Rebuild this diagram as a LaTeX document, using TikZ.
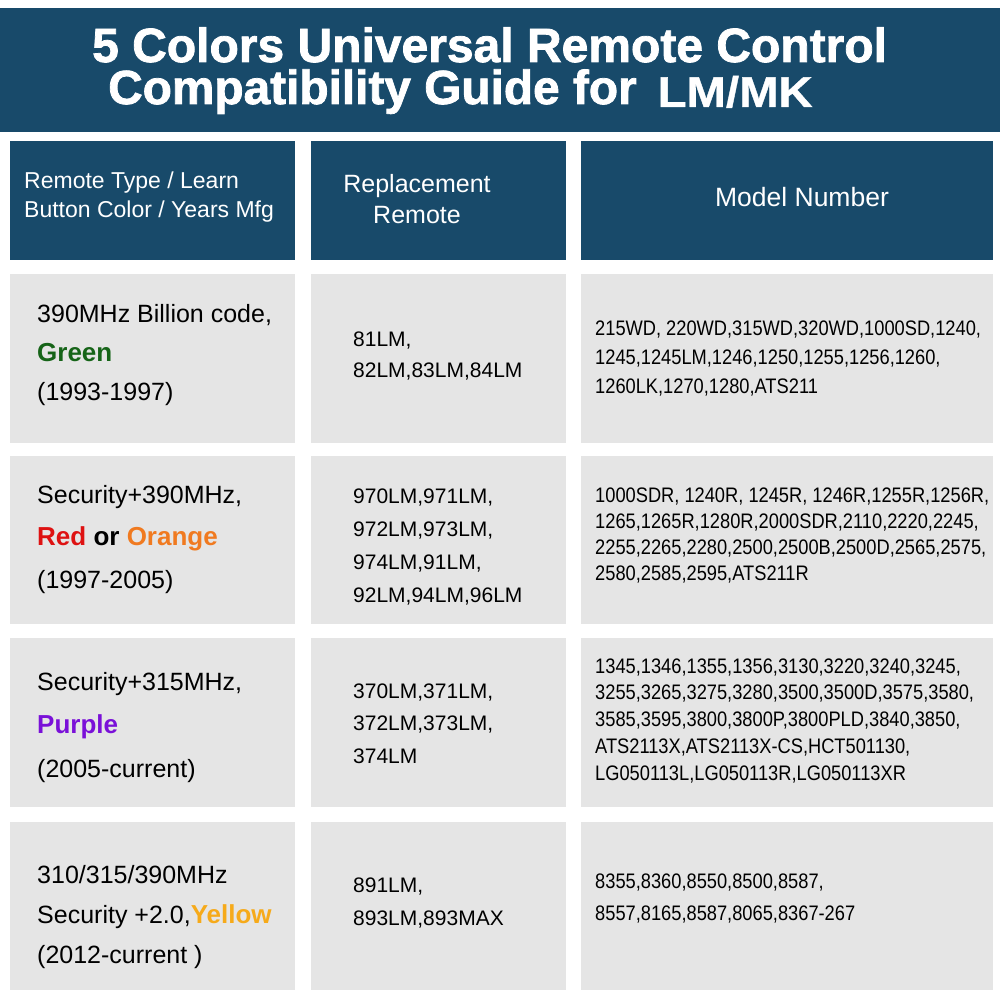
\documentclass[tikz,border=0pt]{standalone}
\usepackage{fontspec}
\setmainfont{Liberation Sans}
\newfontfamily\titlefont[BoldFeatures={FakeBold=1.6}]{Liberation Sans}
\newfontfamily\lmmkfont[BoldFeatures={FakeBold=0.8}]{Liberation Sans}
\usetikzlibrary{positioning}
\definecolor{bannerblue}{RGB}{24,74,106}
\definecolor{cellgray}{RGB}{229,229,229}
\definecolor{codegreen}{RGB}{22,100,24}
\definecolor{codered}{RGB}{222,18,18}
\definecolor{codeorange}{RGB}{240,122,32}
\definecolor{codepurple}{RGB}{122,16,216}
\definecolor{codeyellow}{RGB}{246,170,26}
\begin{document}
\begin{tikzpicture}[x=1pt, y=-1pt,
    banner/.style={rectangle, fill=bannerblue, inner sep=0pt, anchor=north west},
    headcell/.style={rectangle, fill=bannerblue, inner sep=0pt, minimum height=119pt},
    cell/.style={rectangle, fill=cellgray, inner sep=0pt},
    titletxt/.style={anchor=base west, inner sep=0pt, text=white, align=left, font=\titlefont\bfseries},
    headtxt/.style={anchor=base, inner sep=0pt, text=white, align=center},
    typetxt/.style={anchor=base west, inner sep=0pt, align=left},
    remotetxt/.style={anchor=base west, inner sep=0pt, align=left},
    modeltxt/.style={anchor=base west, inner sep=0pt, align=left, xscale=0.87, transform shape}]

\useasboundingbox (0,0) rectangle (1000,1000);
\fill[white] (0,0) rectangle (1000,1000);

% Title (multi-line nodes sit on the baseline of their last line)
\node [banner, minimum width=1000pt, minimum height=124pt] (title) at (0,8) {};
\node [titletxt, font=\titlefont\bfseries\fontsize{48}{42}\selectfont] (titletext) at (92,104)
    {5 Colors Universal Remote Control\\
     \hspace*{16pt}{\fontsize{47.8}{42}\selectfont Compatibility Guide for}\hspace{21pt}%
     \raisebox{-3pt}{\lmmkfont\bfseries\fontsize{43}{43}\selectfont\scalebox{1.1}[1]{LM/MK}}};

% Header cells
\node [headcell, minimum width=285pt, anchor=north west] (h1) at (10,141) {};
\node [headcell, minimum width=255pt, right=15pt of h1] (h2) {};
\node [headcell, minimum width=412pt, right=15pt of h2] (h3) {};

% Body cells
\node [cell, minimum width=285pt, minimum height=169pt, below=13pt of h1] (r1c1) {};
\node [cell, minimum width=255pt, minimum height=169pt, right=15pt of r1c1] (r1c2) {};
\node [cell, minimum width=412pt, minimum height=169pt, right=15pt of r1c2] (r1c3) {};
\node [cell, minimum width=285pt, minimum height=168pt, below=13pt of r1c1] (r2c1) {};
\node [cell, minimum width=255pt, minimum height=168pt, right=15pt of r2c1] (r2c2) {};
\node [cell, minimum width=412pt, minimum height=168pt, right=15pt of r2c2] (r2c3) {};
\node [cell, minimum width=285pt, minimum height=169pt, below=14pt of r2c1] (r3c1) {};
\node [cell, minimum width=255pt, minimum height=169pt, right=15pt of r3c1] (r3c2) {};
\node [cell, minimum width=412pt, minimum height=169pt, right=15pt of r3c2] (r3c3) {};
\node [cell, minimum width=285pt, minimum height=168pt, below=14pt of r3c1] (r4c1) {};
\node [cell, minimum width=255pt, minimum height=168pt, right=15pt of r4c1] (r4c2) {};
\node [cell, minimum width=412pt, minimum height=168pt, right=15pt of r4c2] (r4c3) {};

% Header texts
\node [headtxt, anchor=base west, align=left, font=\fontsize{23}{29}\selectfont] (h1txt) at (24,218) {Remote Type / Learn\\Button Color / Years Mfg};
\node [headtxt, font=\fontsize{25}{31}\selectfont] (h2txt) at (417,224) {Replacement\\Remote};
\node [headtxt, font=\fontsize{26.5}{30}\selectfont] (h3txt) at (802,207) {Model Number};

% Remote type column
\node [typetxt, font=\fontsize{25}{39}\selectfont] (t1) at (37,400) {390MHz Billion code,\\\textcolor{codegreen}{\bfseries\fontsize{26}{39}\selectfont Green}\\(1993-1997)};
\node [typetxt, font=\fontsize{25}{42.5}\selectfont] (t2) at (37,588) {Security+390MHz,\\{\bfseries\fontsize{26}{42.5}\selectfont\textcolor{codered}{Red} or \textcolor{codeorange}{Orange}}\\(1997-2005)};
\node [typetxt, font=\fontsize{25}{43.5}\selectfont] (t3) at (37,777) {Security+315MHz,\\\textcolor{codepurple}{\bfseries\fontsize{26}{43.5}\selectfont Purple}\\(2005-current)};
\node [typetxt, font=\fontsize{25}{40}\selectfont] (t4) at (37,963) {310/315/390MHz\\Security +2.0,\textcolor{codeyellow}{\bfseries\fontsize{26}{40}\selectfont Yellow}\\(2012-current )};

% Replacement remote column
\node [remotetxt, font=\fontsize{21}{31}\selectfont] (m1) at (353,377) {81LM,\\82LM,83LM,84LM};
\node [remotetxt, font=\fontsize{21}{33}\selectfont] (m2) at (353,602) {970LM,971LM,\\972LM,973LM,\\974LM,91LM,\\92LM,94LM,96LM};
\node [remotetxt, font=\fontsize{21}{32.5}\selectfont] (m3) at (353,763) {370LM,371LM,\\372LM,373LM,\\374LM};
\node [remotetxt, font=\fontsize{21}{33}\selectfont] (m4) at (353,925) {891LM,\\893LM,893MAX};

% Model number column
\node [modeltxt, font=\fontsize{21}{29}\selectfont] (n1) at (595,393) {215WD, 220WD,315WD,320WD,1000SD,1240,\\1245,1245LM,1246,1250,1255,1256,1260,\\1260LK,1270,1280,ATS211};
\node [modeltxt, font=\fontsize{21}{26}\selectfont] (n2) at (595,580) {1000SDR, 1240R, 1245R, 1246R,1255R,1256R,\\1265,1265R,1280R,2000SDR,2110,2220,2245,\\2255,2265,2280,2500,2500B,2500D,2565,2575,\\2580,2585,2595,ATS211R};
\node [modeltxt, font=\fontsize{21}{26.7}\selectfont] (n3) at (595,780) {1345,1346,1355,1356,3130,3220,3240,3245,\\3255,3265,3275,3280,3500,3500D,3575,3580,\\3585,3595,3800,3800P,3800PLD,3840,3850,\\ATS2113X,ATS2113X-CS,HCT501130,\\LG050113L,LG050113R,LG050113XR};
\node [modeltxt, font=\fontsize{21}{32}\selectfont] (n4) at (595,920) {8355,8360,8550,8500,8587,\\8557,8165,8587,8065,8367-267};

\end{tikzpicture}
\end{document}
